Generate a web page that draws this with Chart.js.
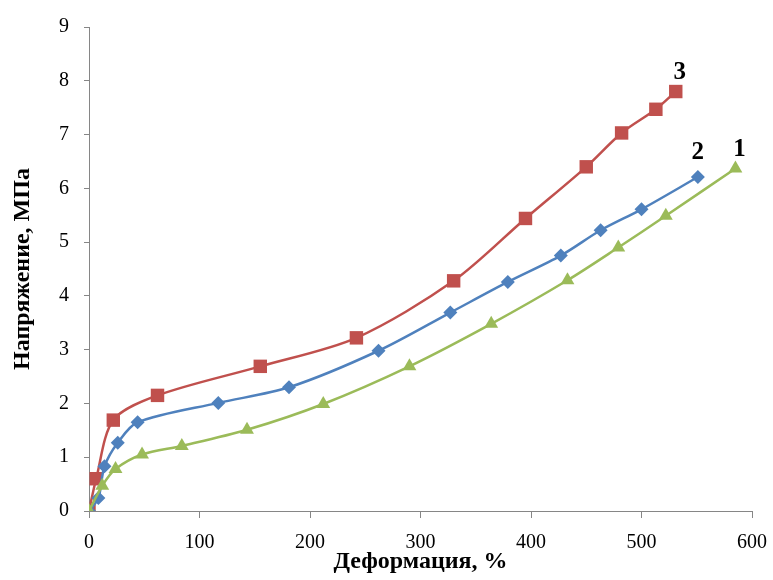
<!DOCTYPE html>
<html lang="ru">
<head>
	<meta charset="UTF-8">
	<title>Напряжение - деформация</title>
	<script src="https://cdn.jsdelivr.net/npm/chart.js"></script>
	<style>
		html, body { margin: 0; padding: 0; background: #fff; }
		#wrap { width: 773px; height: 580px; }
	</style>
</head>
<body>
	<div id="wrap">
		<canvas id="canvas1" width="773" height="580"></canvas>
	</div>

	<script>
		// --- data ---
		// curve 1 (green, triangles)
		const strain1 = [0, 12, 24, 48, 84, 143, 212, 290, 364, 433, 479, 522, 585];
		const stress1 = [0, 0.47, 0.78, 1.05, 1.21, 1.51, 1.99, 2.69, 3.48, 4.29, 4.9, 5.49, 6.37];

		// curve 2 (blue, diamonds)
		const strain2 = [0, 8.5, 14, 26, 44, 117, 181, 262, 327, 379, 427, 463, 500, 551];
		const stress2 = [0, 0.24, 0.83, 1.27, 1.65, 2.01, 2.3, 2.98, 3.69, 4.26, 4.75, 5.22, 5.61, 6.21];

		// curve 3 (red, squares)
		const strain3 = [0, 6.5, 22, 62, 155, 242, 330, 395, 450, 482, 513, 531];
		const stress3 = [0, 0.6, 1.69, 2.15, 2.69, 3.22, 4.28, 5.44, 6.4, 7.03, 7.47, 7.8];

		const curveNames = ['1', '2', '3'];
		const xTicks = [0, 100, 200, 300, 400, 500, 600];
		const yTicks = [0, 1, 2, 3, 4, 5, 6, 7, 8, 9];

		const serif = "'Liberation Serif', 'Times New Roman', serif";
		const axisGray = '#868686';

		function toPoints(xs, ys) {
			return xs.map((x, i) => ({ x: x, y: ys[i] }));
		}

		// green first so it sits on top (like the original)
		const datasets = [
			{
				label: curveNames[0],
				data: toPoints(strain1, stress1),
				borderColor: '#9BBB59',
				backgroundColor: '#9BBB59',
				pointStyle: 'triangle',
				pointRadius: 8,
				tagOffset: [4, -19]
			},
			{
				label: curveNames[1],
				data: toPoints(strain2, stress2),
				borderColor: '#4F81BD',
				backgroundColor: '#4F81BD',
				pointStyle: 'rectRot',
				pointRadius: 7,
				tagOffset: [0, -24]
			},
			{
				label: curveNames[2],
				data: toPoints(strain3, stress3),
				borderColor: '#C0504D',
				backgroundColor: '#C0504D',
				pointStyle: 'rect',
				pointRadius: 9.5,
				tagOffset: [4, -19]
			}
		];

		// numbers 1, 2, 3 next to the last point of each curve
		const curveTags = {
			id: 'curveTags',
			afterDatasetsDraw(chart) {
				const ctx = chart.ctx;
				ctx.save();
				ctx.font = 'bold 25px ' + serif;
				ctx.fillStyle = '#000';
				ctx.textAlign = 'center';
				ctx.textBaseline = 'middle';
				chart.data.datasets.forEach((ds, i) => {
					const pts = chart.getDatasetMeta(i).data;
					const last = pts[pts.length - 1];
					ctx.fillText(ds.label, last.x + ds.tagOffset[0], last.y + ds.tagOffset[1]);
				});
				ctx.restore();
			}
		};

		const config = {
			type: 'line',
			data: { datasets: datasets },
			options: {
				responsive: false,
				animation: false,
				layout: { padding: { top: 23, right: 21, left: 0, bottom: 0 } },
				elements: {
					line: { borderWidth: 2.5, tension: 0.3 },
					point: { borderWidth: 0, hoverRadius: 8 }
				},
				plugins: {
					legend: { display: false },
					tooltip: { enabled: false }
				},
				scales: {
					x: {
						type: 'linear',
						min: 0,
						max: 600,
						afterBuildTicks: (axis) => { axis.ticks = xTicks.map(v => ({ value: v })); },
						afterFit: (axis) => {
							axis.height = 69;
							// the layout padding already leaves room for the end labels
							axis.paddingLeft = 0;
							axis.paddingRight = 0;
						},
						grid: { drawOnChartArea: false, drawTicks: true, tickLength: 7, color: axisGray },
						border: { color: axisGray, width: 1 },
						ticks: { color: '#000', font: { family: serif, size: 20 }, padding: 13, maxRotation: 0 },
						title: {
							display: true,
							text: 'Деформация, %',
							color: '#000',
							font: { family: serif, size: 24, weight: 'bold' },
							padding: { top: 0, bottom: 4 }
						}
					},
					y: {
						min: 0,
						max: 9,
						afterBuildTicks: (axis) => { axis.ticks = yTicks.map(v => ({ value: v })); },
						afterFit: (axis) => { axis.width = 89; },
						grid: { drawOnChartArea: false, drawTicks: true, tickLength: 5, color: axisGray },
						border: { color: axisGray, width: 1 },
						ticks: { color: '#000', font: { family: serif, size: 20 }, padding: 15 },
						title: {
							display: true,
							text: 'Напряжение, МПа',
							color: '#000',
							font: { family: serif, size: 24, weight: 'bold' },
							padding: { top: 8, bottom: 0 }
						}
					}
				}
			},
			plugins: [curveTags]
		};

		const ctx = document.getElementById('canvas1').getContext('2d');
		const chart = new Chart(ctx, config);
	</script>
</body>
</html>
